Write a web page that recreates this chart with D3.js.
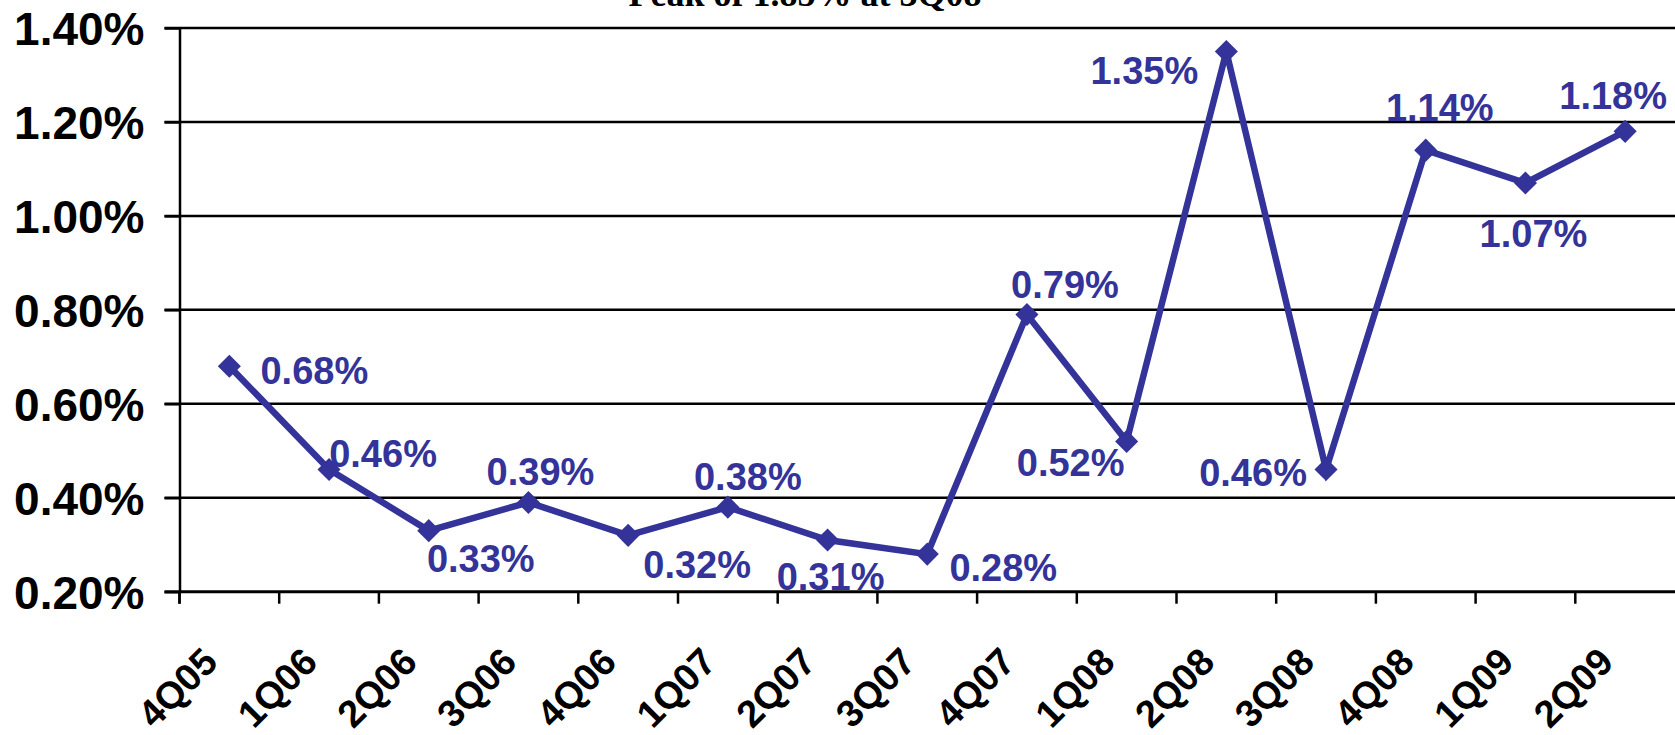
<!DOCTYPE html>
<html>
<head>
<meta charset="utf-8">
<script src="https://cdn.jsdelivr.net/npm/d3@7"></script>
<style>
  html, body { margin: 0; padding: 0; background: #fff; }
  svg { display: block; }
</style>
</head>
<body>
<script>
// ---- data ----
const categories = ["4Q05","1Q06","2Q06","3Q06","4Q06","1Q07","2Q07","3Q07","4Q07","1Q08","2Q08","3Q08","4Q08","1Q09","2Q09"];
const values = [0.68, 0.46, 0.33, 0.39, 0.32, 0.38, 0.31, 0.28, 0.79, 0.52, 1.35, 0.46, 1.14, 1.07, 1.18];
const yTicks = [0.20, 0.40, 0.60, 0.80, 1.00, 1.20, 1.40];
const titleText = "Peak of 1.85% at 3Q08";

// ---- layout (label placement offsets, px from the point, label centre) ----
const labelOffsets = [
  [85, 4], [54, -16], [52, 28], [12, -31], [69, 29], [20, -31], [3, 36], [76, 13],
  [38, -30], [-56, 21], [-82, 19], [-73, 3], [14, -43], [8, 50], [-12, -36]
];

const W = 1675, H = 735;
const mLeft = 179.5, mRight = 1675, mTop = 28, mBottom = 591.7;
const blue = "#333399";

const svg = d3.select("body").append("svg").attr("width", W).attr("height", H);

const x = d3.scaleBand().domain(categories).range([mLeft, mRight]).paddingInner(0).paddingOuter(0);
const y = d3.scaleLinear().domain([0.20, 1.40]).range([mBottom, mTop]);

// title (clipped at top, as in the original)
svg.append("text")
  .attr("x", 805).attr("y", 6)
  .attr("text-anchor", "middle")
  .attr("font-family", "'Liberation Serif', 'Times New Roman', serif")
  .attr("font-weight", "bold")
  .attr("font-size", 36)
  .attr("fill", "#000")
  .text(titleText);

// gridlines
svg.append("g").selectAll("line").data(yTicks.filter(d => d > 0.2)).join("line")
  .attr("x1", mLeft - 15).attr("x2", mRight)
  .attr("y1", d => y(d)).attr("y2", d => y(d))
  .attr("stroke", "#000").attr("stroke-width", 2.5);

// y axis
const yAxis = d3.axisLeft(y).tickValues(yTicks).tickSize(15).tickSizeOuter(0)
  .tickFormat(d => d3.format(".2f")(d) + "%");
const gy = svg.append("g").attr("transform", `translate(${mLeft},0)`).call(yAxis);
gy.select(".domain").attr("stroke", "#000").attr("stroke-width", 2.5);
gy.selectAll(".tick line").attr("stroke", "#000").attr("stroke-width", 2.5);
gy.selectAll(".tick text")
  .attr("x", -35)
  .attr("dy", "0.36em")
  .attr("font-family", "'Liberation Sans', Arial, sans-serif")
  .attr("font-weight", "bold")
  .attr("font-size", 46)
  .attr("fill", "#000");
svg.append("line").attr("x1", mLeft).attr("x2", mLeft).attr("y1", mBottom).attr("y2", mBottom + 12)
  .attr("stroke", "#000").attr("stroke-width", 2.5);

// x axis: ticks at band boundaries
const gx = svg.append("g").attr("transform", `translate(0,${mBottom})`);
gx.append("line").attr("x1", mLeft - 15).attr("x2", mRight).attr("y1", 0).attr("y2", 0)
  .attr("stroke", "#000").attr("stroke-width", 3);
gx.selectAll("line.tk").data(categories).join("line").attr("class", "tk")
  .attr("x1", d => x(d)).attr("x2", d => x(d))
  .attr("y1", 0).attr("y2", 12)
  .attr("stroke", "#000").attr("stroke-width", 2.5);
gx.selectAll("text").data(categories).join("text")
  .attr("transform", d => `translate(${x(d) + x.bandwidth() / 2 - 29},${53}) rotate(-45)`)
  .attr("text-anchor", "end")
  .attr("dy", "0.72em")
  .attr("font-family", "'Liberation Sans', Arial, sans-serif")
  .attr("font-weight", "bold")
  .attr("font-size", 38)
  .attr("fill", "#000")
  .text(d => d);

// line
const pts = categories.map((c, i) => ({c, v: values[i], i}));
const cx = d => x(d.c) + x.bandwidth() / 2;
svg.append("path").datum(pts)
  .attr("d", d3.line().x(cx).y(d => y(d.v)))
  .attr("fill", "none").attr("stroke", blue).attr("stroke-width", 6.5)
  .attr("stroke-linejoin", "miter");

// markers (diamonds)
svg.append("g").selectAll("path").data(pts).join("path")
  .attr("transform", d => `translate(${cx(d)},${y(d.v)})`)
  .attr("d", d3.symbol().type(d3.symbolDiamond2).size(340))
  .attr("fill", blue);

// labels
svg.append("g").selectAll("text").data(pts).join("text")
  .attr("x", d => cx(d) + labelOffsets[d.i][0])
  .attr("y", d => y(d.v) + labelOffsets[d.i][1])
  .attr("dy", "0.36em")
  .attr("text-anchor", "middle")
  .attr("font-family", "'Liberation Sans', Arial, sans-serif")
  .attr("font-weight", "bold")
  .attr("font-size", 38)
  .attr("fill", blue)
  .text(d => d3.format(".2f")(d.v) + "%");
</script>
</body>
</html>
